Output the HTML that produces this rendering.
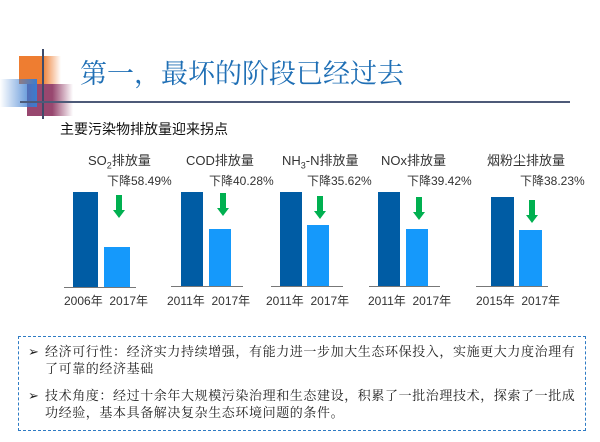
<!DOCTYPE html>
<html><head><meta charset="utf-8"><style>
body{margin:0;width:600px;height:442px;background:#fff;position:relative;overflow:hidden;font-family:"Liberation Sans","Noto Sans CJK SC",sans-serif;}
.a{position:absolute;}
.t{position:absolute;white-space:nowrap;font-size:12px;color:#333;}
.d{position:absolute;background:#005ca4;}
.l{position:absolute;background:#1599fb;}
.ax{position:absolute;height:1px;background:#777;}
</style></head><body>
<div class="a" style="left:19px;top:56px;width:42px;height:28px;background:linear-gradient(90deg,#ee7d31 55%,rgba(238,125,49,0))"></div>
<div class="a" style="left:27px;top:84px;width:46px;height:32px;background:linear-gradient(90deg,#98476f 55%,rgba(152,71,111,0))"></div>
<div class="a" style="left:0;top:79px;width:37px;height:28px;background:linear-gradient(90deg,rgba(40,110,200,0),#3a7cd0)"></div>
<div class="a" style="left:42px;top:49px;width:2px;height:70px;background:#3f4b6a"></div>
<div class="a" style="left:20px;top:101px;width:550px;height:2px;background:#4d5a78"></div>
<div class="t" style="left:80px;top:52px;font-size:27px;color:#1f6fb5;font-family:'Noto Serif CJK SC',serif;">第一，最坏的阶段已经过去</div>
<div class="t" style="left:60px;top:119px;font-size:14px;color:#111;">主要污染物排放量迎来拐点</div>

<svg width="600" height="442" style="position:absolute;left:0;top:0" >
<defs><g id="ar"><rect x="3" y="0" width="6" height="16" fill="#00b050"/><polygon points="0,15 12,15 6,23" fill="#00b050"/></g></defs>
<use href="#ar" x="113" y="195"/>
<use href="#ar" x="217" y="193"/>
<use href="#ar" x="314" y="196"/>
<use href="#ar" x="413" y="197"/>
<use href="#ar" x="526" y="200"/>
</svg>

<div class="t" style="left:88px;top:150px;font-size:13px">SO<sub style="font-size:9px">2</sub>排放量</div>
<div class="t" style="left:107px;top:172px">下降58.49%</div>
<div class="d" style="left:73px;top:192px;width:25px;height:95px"></div>
<div class="l" style="left:104px;top:247px;width:26px;height:40px"></div>
<div class="ax" style="left:64px;top:287px;width:72px"></div>
<div class="t" style="left:64px;top:292px">2006年&nbsp;&nbsp;2017年</div>

<div class="t" style="left:186px;top:150px;font-size:13px">COD排放量</div>
<div class="t" style="left:209px;top:172px">下降40.28%</div>
<div class="d" style="left:181px;top:192px;width:22px;height:94px"></div>
<div class="l" style="left:209px;top:229px;width:22px;height:57px"></div>
<div class="ax" style="left:171px;top:286px;width:72px"></div>
<div class="t" style="left:167px;top:292px">2011年&nbsp;&nbsp;2017年</div>

<div class="t" style="left:282px;top:150px;font-size:13px">NH<sub style="font-size:9px">3</sub>-N排放量</div>
<div class="t" style="left:307px;top:172px">下降35.62%</div>
<div class="d" style="left:280px;top:192px;width:22px;height:94px"></div>
<div class="l" style="left:307px;top:225px;width:22px;height:61px"></div>
<div class="ax" style="left:271px;top:286px;width:72px"></div>
<div class="t" style="left:266px;top:292px">2011年&nbsp;&nbsp;2017年</div>

<div class="t" style="left:381px;top:150px;font-size:13px">NOx排放量</div>
<div class="t" style="left:407px;top:172px">下降39.42%</div>
<div class="d" style="left:378px;top:192px;width:22px;height:94px"></div>
<div class="l" style="left:406px;top:229px;width:22px;height:57px"></div>
<div class="ax" style="left:369px;top:286px;width:71px"></div>
<div class="t" style="left:368px;top:292px">2011年&nbsp;&nbsp;2017年</div>

<div class="t" style="left:487px;top:150px;font-size:13px">烟粉尘排放量</div>
<div class="t" style="left:520px;top:172px">下降38.23%</div>
<div class="d" style="left:491px;top:197px;width:23px;height:89px"></div>
<div class="l" style="left:519px;top:230px;width:23px;height:56px"></div>
<div class="ax" style="left:476px;top:286px;width:72px"></div>
<div class="t" style="left:476px;top:292px">2015年&nbsp;&nbsp;2017年</div>

<div class="a" style="left:18px;top:336px;width:566px;height:93px;border:1.5px dashed #2e7bc4;"></div>
<div class="t" style="left:28px;top:343px;font-size:13px;line-height:17px;color:#222;white-space:normal;width:560px;letter-spacing:0.6px;font-family:'Liberation Serif','Noto Serif CJK SC',serif;">
<div style="display:flex"><span style="width:17px">➢</span><span style="width:535px">经济可行性：经济实力持续增强，有能力进一步加大生态环保投入，实施更大力度治理有了可靠的经济基础</span></div>
<div style="display:flex;margin-top:10px"><span style="width:17px">➢</span><span style="width:535px">技术角度：经过十余年大规模污染治理和生态建设，积累了一批治理技术，探索了一批成功经验，基本具备解决复杂生态环境问题的条件。</span></div>
</div>
</body></html>
